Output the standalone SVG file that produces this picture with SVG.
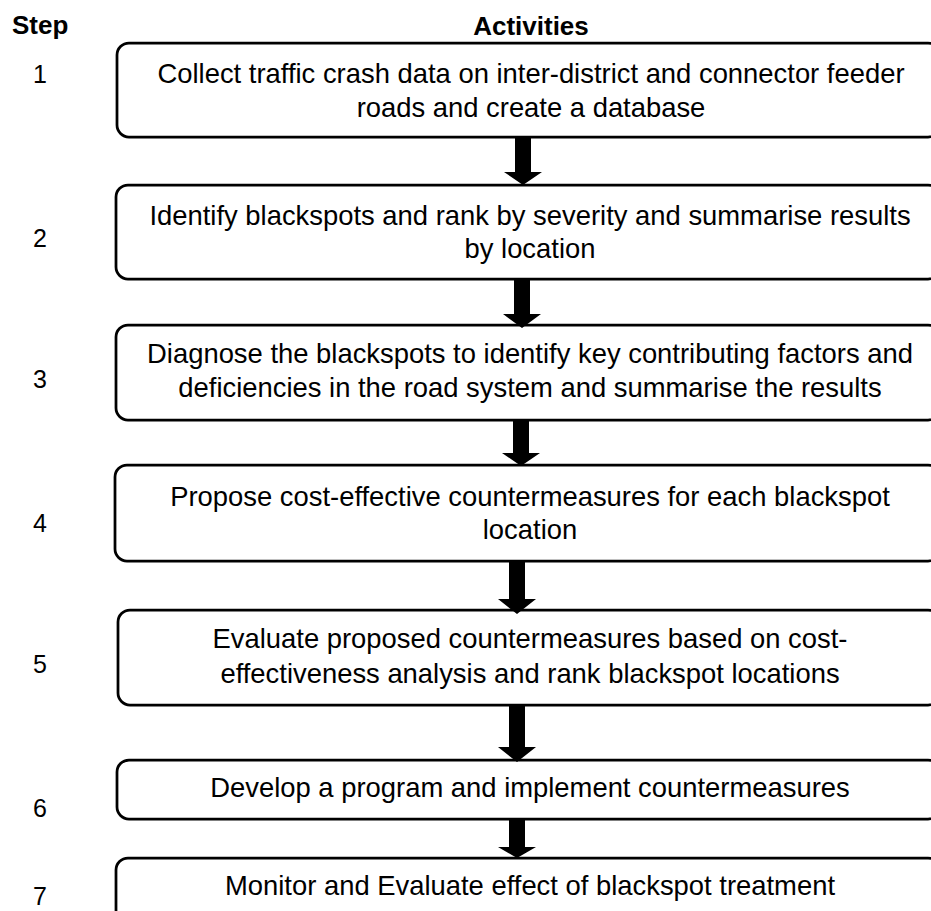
<svg xmlns="http://www.w3.org/2000/svg" width="931" height="911" viewBox="0 0 931 911">
<style>
.box{fill:#fff;stroke:#000;stroke-width:2.75}
.t{font-family:"Liberation Sans",Arial,sans-serif;font-size:27.4px;fill:#000;text-anchor:middle}
.h{font-family:"Liberation Sans",Arial,sans-serif;font-size:26px;font-weight:bold;fill:#000}
.n{font-family:"Liberation Sans",Arial,sans-serif;font-size:25px;fill:#000;text-anchor:middle}
.arr{fill:#000}
</style>
<rect width="931" height="911" fill="#fff"/>
<g id="headers">
<text class="h" x="12" y="34">Step</text>
<text class="h" x="531" y="35" text-anchor="middle">Activities</text>
</g>
<g id="steps">
<text class="n" x="40" y="83">1</text>
<text class="n" x="40" y="247">2</text>
<text class="n" x="40" y="388">3</text>
<text class="n" x="40" y="532">4</text>
<text class="n" x="40" y="673">5</text>
<text class="n" x="40" y="817">6</text>
<text class="n" x="40" y="905">7</text>
</g>
<g id="node1">
<rect class="box" x="117" y="43" width="823" height="94" rx="12"/>
<text class="t" x="531" y="83">Collect traffic crash data on inter-district and connector feeder</text>
<text class="t" x="531" y="117">roads and create a database</text>
</g>
<g id="node2">
<rect class="box" x="116" y="185" width="824" height="94" rx="12"/>
<text class="t" x="530" y="225">Identify blackspots and rank by severity and summarise results</text>
<text class="t" x="530" y="258">by location</text>
</g>
<g id="node3">
<rect class="box" x="116" y="325" width="824" height="95" rx="12"/>
<text class="t" x="530" y="363">Diagnose the blackspots to identify key contributing factors and</text>
<text class="t" x="530" y="397">deficiencies in the road system and summarise the results</text>
</g>
<g id="node4">
<rect class="box" x="115" y="465" width="825" height="96" rx="12"/>
<text class="t" x="530" y="506">Propose cost-effective countermeasures for each blackspot</text>
<text class="t" x="530" y="539">location</text>
</g>
<g id="node5">
<rect class="box" x="118" y="610" width="822" height="95" rx="12"/>
<text class="t" x="530" y="648">Evaluate proposed countermeasures based on cost-</text>
<text class="t" x="530" y="683">effectiveness analysis and rank blackspot locations</text>
</g>
<g id="node6">
<rect class="box" x="117" y="760" width="823" height="59" rx="12"/>
<text class="t" x="530" y="797">Develop a program and implement countermeasures</text>
</g>
<g id="node7">
<rect class="box" x="116" y="858" width="824" height="80" rx="12"/>
<text class="t" x="530" y="895">Monitor and Evaluate effect of blackspot treatment</text>
</g>
<g id="connectors">
<polygon class="arr" points="515,137 531,137 531,172 542,172 523,185 504,172 515,172"/>
<polygon class="arr" points="514,279 530,279 530,314 541,314 522,328 503,314 514,314"/>
<polygon class="arr" points="513,420 529,420 529,453 540,453 521,466 502,453 513,453"/>
<polygon class="arr" points="509,561 525,561 525,599 536,599 517,614 498,599 509,599"/>
<polygon class="arr" points="509,705 525,705 525,747 536,747 517,762 498,747 509,747"/>
<polygon class="arr" points="509,819 525,819 525,847 536,847 517,858 498,847 509,847"/>
</g>
</svg>
